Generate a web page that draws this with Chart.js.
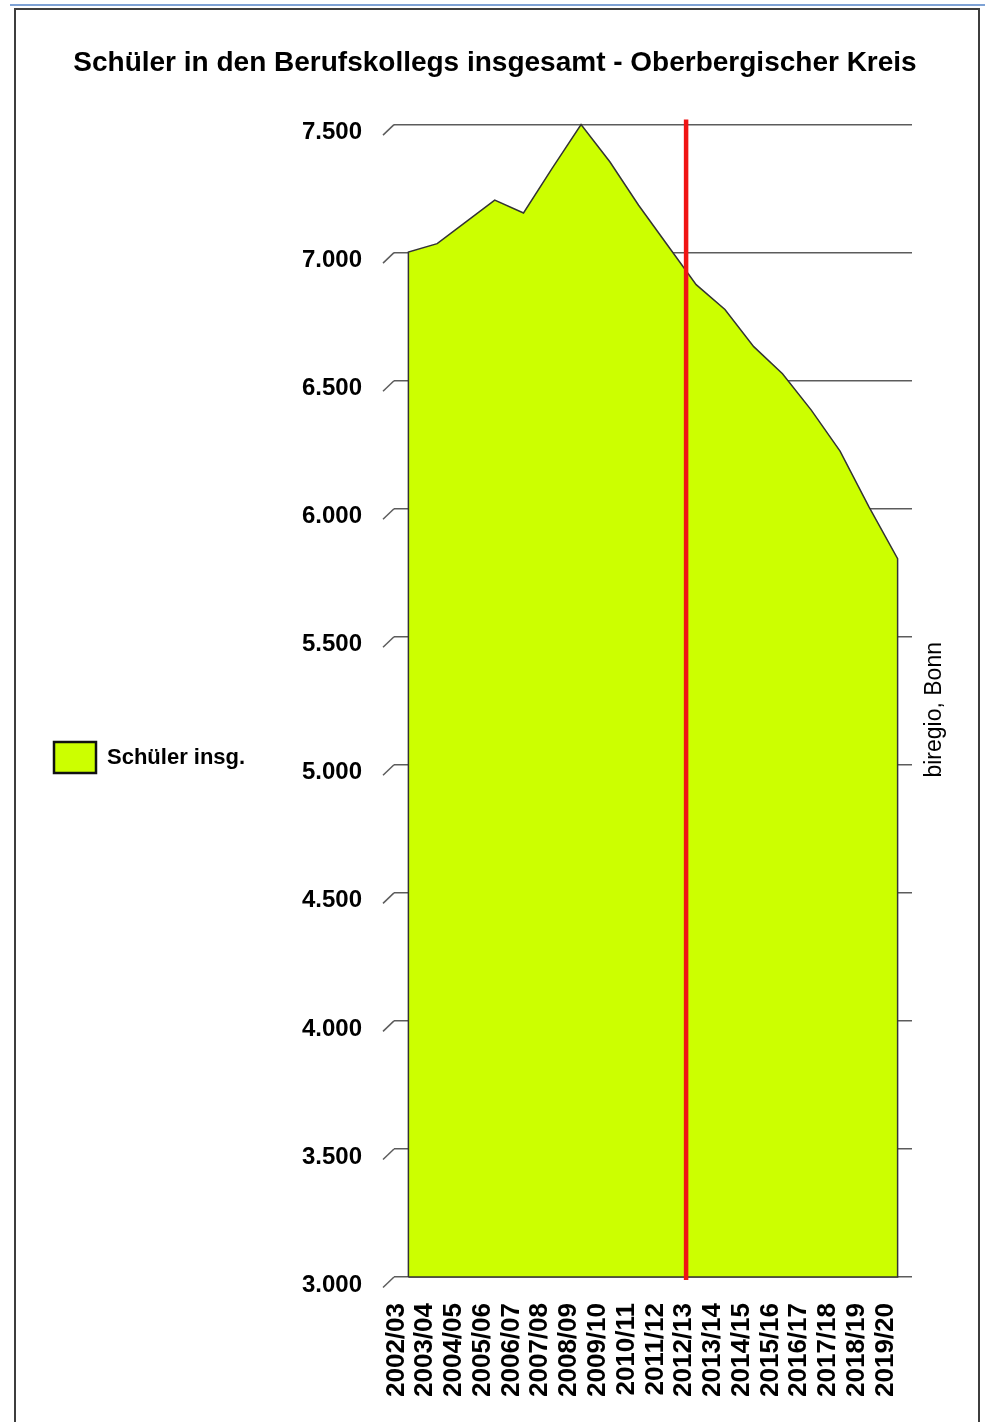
<!DOCTYPE html>
<html><head><meta charset="utf-8">
<script src="https://cdn.jsdelivr.net/npm/chart.js@4"></script>
<style>
html,body{margin:0;padding:0;background:#fff;}
#wrap{position:relative;width:985px;height:1422px;overflow:hidden;}
#topline{position:absolute;left:10px;top:4px;width:975px;height:2px;background:#7ea2d5;}
#frame{position:absolute;left:14px;top:8px;width:966px;height:1500px;box-sizing:border-box;border:2px solid #3e3e3e;border-bottom:none;}
canvas{position:absolute;left:0;top:0;}
</style></head><body>
<div id="wrap"><div id="topline"></div><div id="frame"></div><canvas id="c" width="985" height="1422"></canvas></div>
<script>
const titleText = 'Schüler in den Berufskollegs insgesamt - Oberbergischer Kreis';
const seriesLabel = 'Schüler insg.';
const sourceText = 'biregio, Bonn';
const categories = ['2002/03','2003/04','2004/05','2005/06','2006/07','2007/08','2008/09','2009/10','2010/11','2011/12','2012/13','2013/14','2014/15','2015/16','2016/17','2017/18','2018/19','2019/20'];
const pupils = [7002, 7035, 7120, 7205, 7155, 7330, 7500, 7355, 7185, 7030, 6875, 6778, 6633, 6527, 6385, 6225, 6008, 5805];
const yTicks = [3000, 3500, 4000, 4500, 5000, 5500, 6000, 6500, 7000, 7500];
const yTickLabels = ['3.000', '3.500', '4.000', '4.500', '5.000', '5.500', '6.000', '6.500', '7.000', '7.500'];
const forecastBoundary = 9.65; // red marker between 2011/12 and 2012/13 (category index units)

const FONT = '"Liberation Sans", Arial, Helvetica, sans-serif';
const yMin = yTicks[0], yMax = yTicks[yTicks.length - 1];

// closed polygon built from the series and the axis minimum
const areaPoints = [{x: 0, y: yMin}]
  .concat(pupils.map((v, i) => ({x: i, y: v})))
  .concat([{x: pupils.length - 1, y: yMin}, {x: 0, y: yMin}]);
const markerPoints = [{x: forecastBoundary, y: yMax + 20}, {x: forecastBoundary, y: yMin - 12}];

const decor = {
  id: 'decor',
  beforeDatasetsDraw(chart) {
    const {ctx, chartArea, scales: {y}} = chart;
    ctx.save();
    ctx.strokeStyle = '#5c5c5c';
    ctx.lineWidth = 1.5;
    y.ticks.forEach(t => {
      const py = y.getPixelForValue(t.value);
      ctx.beginPath();
      ctx.moveTo(chartArea.left - 11, py + 10.5);
      ctx.lineTo(chartArea.left, py);
      ctx.stroke();
    });
    ctx.restore();
  },
  afterDraw(chart) {
    const {ctx, chartArea} = chart;
    ctx.save();
    ctx.translate(chartArea.right + 23, (chartArea.top + chartArea.bottom) / 2 + 9);
    ctx.rotate(-Math.PI / 2);
    ctx.font = '23px ' + FONT;
    ctx.fillStyle = '#000';
    ctx.textAlign = 'center';
    ctx.textBaseline = 'middle';
    ctx.fillText(sourceText, 0, 0);
    ctx.restore();
  }
};

new Chart(document.getElementById('c'), {
  type: 'line',
  data: {
    datasets: [
      {
        label: seriesLabel,
        data: areaPoints,
        fill: 'shape',
        backgroundColor: '#ccff00',
        borderColor: '#333333',
        borderWidth: 1.5,
        pointRadius: 0,
        tension: 0,
        order: 2,
        clip: 4
      },
      {
        label: 'Prognosebeginn',
        data: markerPoints,
        fill: false,
        borderColor: '#f01414',
        borderWidth: 4.5,
        pointRadius: 0,
        order: 1,
        clip: false
      }
    ]
  },
  plugins: [decor],
  options: {
    responsive: false,
    animation: false,
    events: [],
    devicePixelRatio: 1,
    layout: {padding: {left: 24, right: 19, top: 0, bottom: 0}},
    plugins: {
      tooltip: {enabled: false},
      title: {
        display: true,
        text: titleText,
        color: '#000',
        font: {family: FONT, size: 28, weight: 'bold'},
        padding: {top: 46, bottom: 45}
      },
      legend: {
        display: true,
        position: 'left',
        align: 'center',
        title: {display: true, text: '', font: {size: 10}, padding: {top: 81, bottom: 0}},
        labels: {
          boxWidth: 42,
          boxHeight: 31,
          padding: 30,
          color: '#000',
          font: {family: FONT, size: 22, weight: 'bold'},
          generateLabels(chart) {
            const items = Chart.defaults.plugins.legend.labels.generateLabels(chart);
            return items.filter(it => it.text === seriesLabel).map(it => Object.assign(it, {
              fillStyle: '#ccff00', strokeStyle: '#111', lineWidth: 2.5
            }));
          }
        }
      }
    },
    scales: {
      x: {
        type: 'linear',
        min: -0.5,
        max: categories.length - 0.5,
        afterBuildTicks: s => { s.ticks = categories.map((c, i) => ({value: i})); },
        afterFit: s => { s.height = 145; },
        grid: {display: false, drawTicks: false},
        border: {display: false},
        ticks: {
          autoSkip: false,
          minRotation: 90,
          maxRotation: 90,
          padding: 26,
          labelOffset: -12,
          color: '#000',
          font: {family: FONT, size: 26, weight: 'bold'},
          callback: v => categories[v]
        }
      },
      y: {
        type: 'linear',
        position: 'left',
        min: yMin,
        max: yMax,
        afterBuildTicks: s => { s.ticks = yTicks.map(v => ({value: v})); },
        afterFit: s => { const lg = s.chart.legend; s.width = 394 - 24 - (lg && lg.width ? lg.width : 0); },
        grid: {color: '#5c5c5c', lineWidth: 1.5, drawTicks: false},
        border: {display: false},
        ticks: {
          autoSkip: false,
          padding: 32,
          labelOffset: 8,
          color: '#000',
          font: {family: FONT, size: 24, weight: 'bold'},
          callback: v => yTickLabels[yTicks.indexOf(v)]
        }
      },
      yRight: {
        type: 'linear',
        position: 'right',
        display: false,
        afterFit: s => { s.width = 54; }
      }
    }
  }
});
</script>
</body></html>
